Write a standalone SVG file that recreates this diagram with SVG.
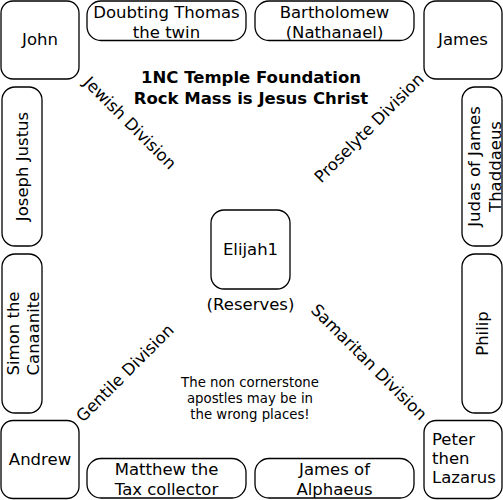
<svg xmlns="http://www.w3.org/2000/svg" width="503" height="500" viewBox="0 0 503 500">
<style>
.b{fill:#fff;stroke:#000;stroke-width:1.3}
text{font-family:"DejaVu Sans",sans-serif;font-size:16.5px;fill:#000}
.c{text-anchor:middle}
.t{font-weight:bold}
.s{font-size:13.3px}
</style>
<rect width="503" height="500" fill="#fff"/>
<g id="title"><text class="c t" x="251" y="83">1NC Temple Foundation</text><text class="c t" x="251" y="104">Rock Mass is Jesus Christ</text></g>
<g id="john"><rect class="b" x="1" y="1" width="78" height="78" rx="12"/><text class="c" x="40" y="45">John</text></g>
<g id="thomas"><rect class="b" x="87" y="1" width="159" height="39.5" rx="14"/><text class="c" x="166.5" y="17.5">Doubting Thomas</text><text class="c" x="166.5" y="37.5">the twin</text></g>
<g id="bartholomew"><rect class="b" x="255" y="1" width="159" height="39.5" rx="14"/><text class="c" x="334.5" y="17.5">Bartholomew</text><text class="c" x="334.5" y="37.5">(Nathanael)</text></g>
<g id="james"><rect class="b" x="424" y="1" width="78" height="78" rx="12"/><text class="c" x="463" y="45">James</text></g>
<g id="joseph"><rect class="b" x="2" y="87" width="40" height="159" rx="13"/><text class="c" transform="translate(27.5,166.5) rotate(-90)">Joseph Justus</text></g>
<g id="judas"><rect class="b" x="462" y="87" width="40" height="159" rx="13"/><text class="c" transform="translate(480,166.5) rotate(-90)">Judas of James</text><text class="c" transform="translate(500.5,166.5) rotate(-90)">Thaddaeus</text></g>
<g id="simon"><rect class="b" x="2" y="254" width="40" height="159" rx="13"/><text class="c" transform="translate(18.5,333.5) rotate(-90)">Simon the</text><text class="c" transform="translate(39,333.5) rotate(-90)">Canaanite</text></g>
<g id="philip"><rect class="b" x="462" y="254" width="40" height="159" rx="13"/><text class="c" transform="translate(488,333.5) rotate(-90)">Philip</text></g>
<g id="andrew"><rect class="b" x="1" y="420.5" width="78" height="78" rx="12"/><text class="c" x="40" y="465">Andrew</text></g>
<g id="matthew"><rect class="b" x="87" y="458.5" width="159" height="39.5" rx="14"/><text class="c" x="166.5" y="475">Matthew the</text><text class="c" x="166.5" y="495">Tax collector</text></g>
<g id="jamesalphaeus"><rect class="b" x="255" y="458.5" width="159" height="39.5" rx="14"/><text class="c" x="334.5" y="475">James of</text><text class="c" x="334.5" y="495">Alphaeus</text></g>
<g id="peter"><rect class="b" x="424" y="420.5" width="78" height="78" rx="12"/><text x="432" y="444.5">Peter</text><text x="432" y="463.5">then</text><text x="432" y="483">Lazarus</text></g>
<g id="elijah"><rect class="b" x="211" y="210" width="79" height="79" rx="13"/><text class="c" x="250.5" y="255">Elijah1</text><text class="c" x="250.5" y="310">(Reserves)</text></g>
<g id="divisions">
<text class="c" transform="translate(126,127) rotate(45)">Jewish Division</text>
<text class="c" transform="translate(373,132) rotate(-45)">Proselyte Division</text>
<text class="c" transform="translate(129,377) rotate(-45)">Gentile Division</text>
<text class="c" transform="translate(365,366) rotate(45)">Samaritan Division</text>
</g>
<g id="note"><text class="c s" x="250" y="387">The non cornerstone</text><text class="c s" x="250" y="403">apostles may be in</text><text class="c s" x="250" y="418.5">the wrong places!</text></g>
</svg>
